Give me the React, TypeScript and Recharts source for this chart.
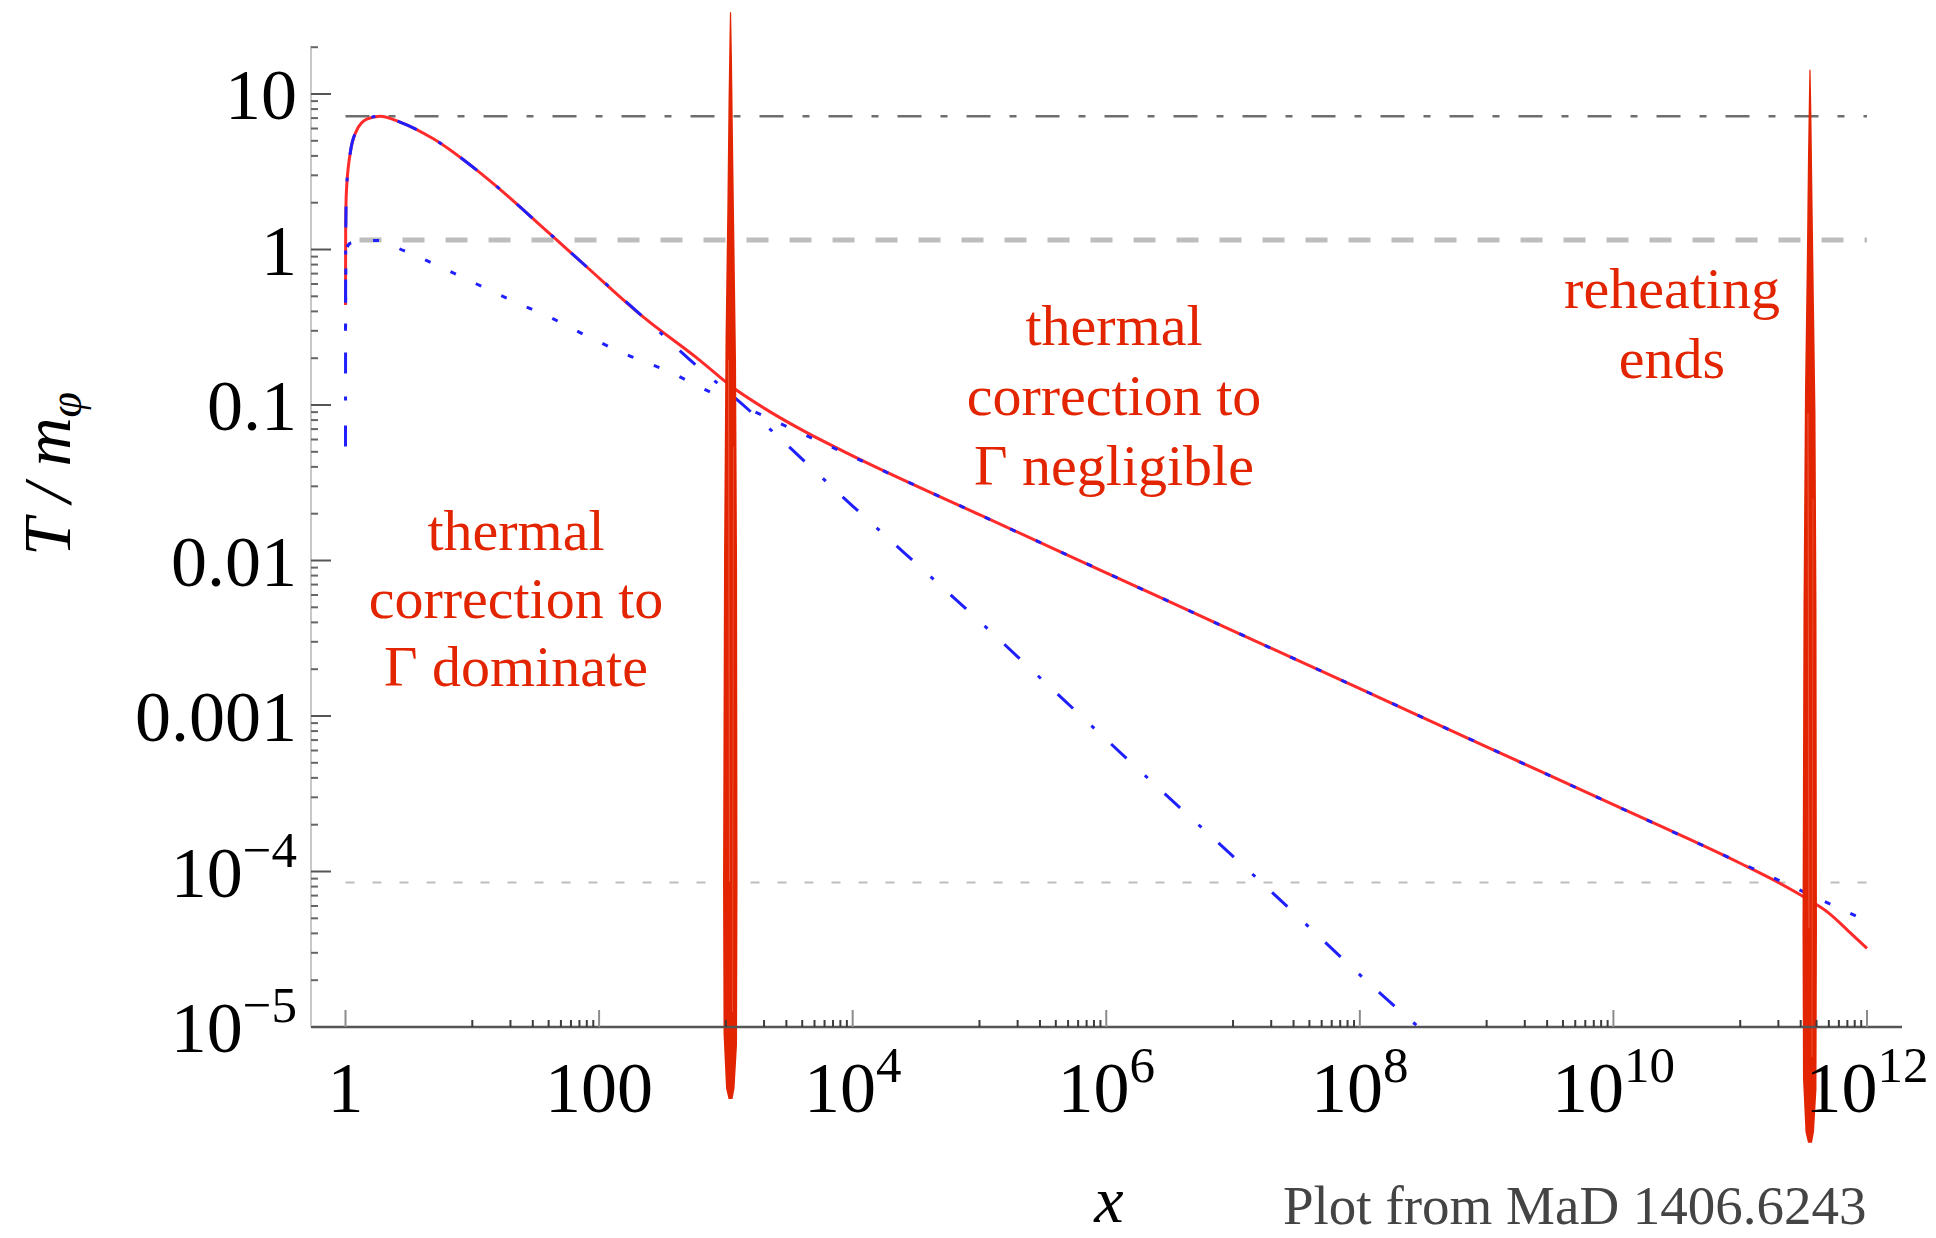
import React from 'react'
import { LineChart, Line, XAxis, YAxis, ReferenceLine } from 'recharts'

// axes: x = a / a_I, y = T / m_phi, both logarithmic
const X_DOMAIN: [number, number] = [0.5344, 1.888e12]
const Y_DOMAIN: [number, number] = [1e-5, 20.36]

const xMajorTicks = [1, 100, 1e4, 1e6, 1e8, 1e10, 1e12]
const xMajorLabels = [['1'], ['100'], ['10', '4'], ['10', '6'], ['10', '8'], ['10', '10'], ['10', '12']]
const xMinorDecades = [10, 1e3, 1e5, 1e7, 1e9, 1e11]

const yMajorTicks = [1e-5, 1e-4, 0.001, 0.01, 0.1, 1, 10]
const yMajorLabels = [['10', '\u22125'], ['10', '\u22124'], ['0.001'], ['0.01'], ['0.1'], ['1'], ['10']]
const yMinorDecades = [1e-5, 1e-4, 1e-3, 0.01, 0.1, 1, 10]

// full solution (red)
const fullSolution = [
  { x: 1, y: 0.44 }, { x: 1.003, y: 1.3 }, { x: 1.015, y: 2.3 }, { x: 1.086, y: 4.1 },
  { x: 1.22, y: 5.8 }, { x: 1.47, y: 6.9 }, { x: 1.87, y: 7.2 }, { x: 2.69, y: 6.6 },
  { x: 4.93, y: 5.15 }, { x: 12.2, y: 3.0 }, { x: 41, y: 1.26 }, { x: 75, y: 0.81 },
  { x: 224, y: 0.367 }, { x: 627, y: 0.193 }, { x: 1088, y: 0.133 }, { x: 2000, y: 0.0955 },
  { x: 4000, y: 0.0689 }, { x: 1e4, y: 0.0471 }, { x: 1e5, y: 0.0197 }, { x: 1e6, y: 0.00834 },
  { x: 1e7, y: 0.00353 }, { x: 1e8, y: 0.0015 }, { x: 1e9, y: 6.34e-4 }, { x: 1e10, y: 2.69e-4 },
  { x: 1e11, y: 1.13e-4 }, { x: 2e11, y: 8.5e-5 }, { x: 3.55e11, y: 6.5e-5 },
  { x: 5e11, y: 5.4e-5 }, { x: 7e11, y: 4.2e-5 }, { x: 1e12, y: 3.2e-5 },
]

// thermal-correction-dominated approximation (blue dash-dot)
const thermalDominated = [
  { x: 1, y: 0.054 }, { x: 1.003, y: 1.0 }, { x: 1.015, y: 2.3 }, { x: 1.086, y: 4.1 },
  { x: 1.22, y: 5.8 }, { x: 1.47, y: 6.9 }, { x: 1.87, y: 7.2 }, { x: 2.69, y: 6.6 },
  { x: 4.93, y: 5.15 }, { x: 12.2, y: 3.0 }, { x: 41, y: 1.26 }, { x: 75, y: 0.81 },
  { x: 224, y: 0.367 }, { x: 627, y: 0.171 }, { x: 1088, y: 0.1175 }, { x: 1e4, y: 0.0224 },
  { x: 1e5, y: 0.00407 }, { x: 4.67e5, y: 0.00126 }, { x: 2.67e6, y: 3.36e-4 },
  { x: 1.73e7, y: 8.3e-5 }, { x: 1.74e8, y: 1.44e-5 }, { x: 2.9e8, y: 1.0e-5 },
]

// thermal correction negligible approximation (blue dotted)
const thermalNegligible = [
  { x: 1, y: 0.3 }, { x: 1.01, y: 1.0 }, { x: 1.1, y: 1.1 }, { x: 1.76, y: 1.144 },
  { x: 2.86, y: 0.986 }, { x: 4.64, y: 0.83 }, { x: 10.8, y: 0.6 }, { x: 26.9, y: 0.426 },
  { x: 41, y: 0.367 }, { x: 65.8, y: 0.301 }, { x: 160.7, y: 0.213 }, { x: 392.6, y: 0.158 },
  { x: 627, y: 0.13 }, { x: 1e3, y: 0.1096 }, { x: 1e4, y: 0.0465 }, { x: 1e5, y: 0.0197 },
  { x: 1e6, y: 0.00834 }, { x: 1e7, y: 0.00353 }, { x: 1e8, y: 0.0015 }, { x: 1e9, y: 6.34e-4 },
  { x: 1e10, y: 2.69e-4 }, { x: 1e11, y: 1.14e-4 }, { x: 1e12, y: 4.8e-5 },
]

// horizontal guide levels and their x extent
const peakLevel = 7.2
const unitLevel = 1.15
const endLevel = 8.5e-5
const guideSpan = [1, 1e12]

// hand-drawn phase markers: x position, top y, bottom y
const phaseMarkers = [
  { x: 1088, top: 33.6, bottom: 3.44e-6 },
  { x: 3.55e11, top: 14.3, bottom: 1.8e-6 },
]

const regionNotes = [
  { cx: 516, y: 550, lines: ['thermal', 'correction to', '\u0393 dominate'], gap: 68 },
  { cx: 1114, y: 345, lines: ['thermal', 'correction to', '\u0393 negligible'], gap: 70 },
  { cx: 1672, y: 308, lines: ['reheating', 'ends'], gap: 70 },
]

const serif = '"Liberation Serif", "Times New Roman", serif'
const RED_INK = '#e32400'

const xMinorTicks = xMinorDecades.flatMap(d => [1, 2, 3, 4, 5, 6, 7, 8, 9].map(j => j * d))
const yMinorTicks = yMinorDecades
  .flatMap(d => [2, 3, 4, 5, 6, 7, 8, 9].map(j => j * d))
  .filter(v => v <= Y_DOMAIN[1])
const xTicks = [...xMajorTicks, ...xMinorTicks]
const yTicks = [...yMajorTicks, ...yMinorTicks]

const findTick = (list: number[], v: number) => list.findIndex(t => Math.abs(t - v) <= t * 1e-9)

function TickLabel({ x, y, parts, anchor }: any) {
  return (
    <text x={x} y={y} textAnchor={anchor} fontFamily={serif} fontSize={72} fill="#000">
      <tspan>{parts[0]}</tspan>
      {parts[1] && <tspan dy={-30} fontSize={51}>{parts[1]}</tspan>}
    </text>
  )
}

const xTick = (side: 'bottom' | 'top') => (p: any) => {
  const i = findTick(xMajorTicks, p.payload.value)
  const major = i >= 0
  const dir = side === 'bottom' ? -1 : 1
  const len = major ? (side === 'bottom' ? 17 : 18) : 7
  return (
    <g>
      <line x1={p.x} x2={p.x} y1={p.y} y2={p.y + dir * len}
        stroke={major ? '#8c8c8c' : '#3c3c3c'} strokeWidth={2} />
      {major && side === 'bottom' && (
        <TickLabel x={p.x} y={p.y + 85} parts={xMajorLabels[i]} anchor="middle" />
      )}
    </g>
  )
}

const yTick = (side: 'left' | 'right') => (p: any) => {
  const i = findTick(yMajorTicks, p.payload.value)
  const major = i >= 0
  const dir = side === 'left' ? 1 : -1
  const len = major ? (side === 'left' ? 20 : 22) : 7
  return (
    <g>
      <line x1={p.x} x2={p.x + dir * len} y1={p.y} y2={p.y}
        stroke={major ? '#555' : '#666'} strokeWidth={2} />
      {major && side === 'left' && (
        <TickLabel x={p.x - 14} y={p.y + 25} parts={yMajorLabels[i]} anchor="end" />
      )}
    </g>
  )
}

// rough felt-pen stroke drawn along a vertical reference segment
function MarkerStroke(p: any) {
  const { x1, y1, y2 } = p
  const top = Math.min(y1, y2)
  const L = Math.abs(y2 - y1)
  const at = (f: number) => top + f * L
  const outline = [
    [0, 0.6], [0.04, 1.4], [0.12, 2.5], [0.22, 4], [0.32, 5.5], [0.5, 6.5], [0.8, 7], [0.95, 6.5], [0.99, 4], [1, 2],
    [1, -2], [0.99, -4.5], [0.94, -7], [0.8, -7.5], [0.5, -6.5], [0.3, -5], [0.18, -3.2], [0.08, -2], [0.02, -1], [0, -0.6],
  ]
  const pts = outline.map(([f, dx]) => `${x1 + dx},${at(f)}`).join(' ')
  return (
    <g>
      <polygon points={pts} fill={RED_INK} />
      <line x1={x1 - 2} x2={x1 - 1} y1={at(0.32)} y2={at(0.8)} stroke="#fff" strokeOpacity={0.25} strokeWidth={1} />
      <line x1={x1 + 3} x2={x1 + 2} y1={at(0.4)} y2={at(0.92)} stroke="#fff" strokeOpacity={0.2} strokeWidth={1} />
    </g>
  )
}

export default function App() {
  return (
    <div style={{ position: 'absolute', left: 0, top: 0, width: 1936, height: 1238, background: '#fff' }}>
      <LineChart width={1936} height={1238} margin={{ top: 46, right: 34, bottom: 0, left: 0 }}>
        <XAxis dataKey="x" type="number" scale="log" domain={X_DOMAIN} allowDataOverflow
          ticks={xTicks} interval={0} tickSize={0} tickMargin={0} tickLine={false}
          tick={xTick('bottom')} height={211} axisLine={{ stroke: '#555', strokeWidth: 2.5 }} />
        <XAxis xAxisId="top" orientation="top" dataKey="x" type="number" scale="log" domain={X_DOMAIN}
          allowDataOverflow ticks={xTicks} interval={0} tickSize={0} tickMargin={0} tickLine={false}
          tick={xTick('top')} height={0} axisLine={{ stroke: '#555', strokeWidth: 2.5 }} />
        <YAxis type="number" scale="log" domain={Y_DOMAIN} allowDataOverflow
          ticks={yTicks} interval={0} tickSize={0} tickMargin={0} tickLine={false}
          tick={yTick('left')} width={311} axisLine={{ stroke: '#c8c8c8', strokeWidth: 2 }} />
        <YAxis yAxisId="right" orientation="right" type="number" scale="log" domain={Y_DOMAIN}
          allowDataOverflow ticks={yTicks} interval={0} tickSize={0} tickMargin={0} tickLine={false}
          tick={yTick('right')} width={0} axisLine={{ stroke: '#d4d4d4', strokeWidth: 2 }} />

        <ReferenceLine segment={[{ x: guideSpan[0], y: peakLevel }, { x: guideSpan[1], y: peakLevel }]}
          stroke="#6e6e6e" strokeWidth={2.5} strokeDasharray="24 19 7 19" />
        <ReferenceLine segment={[{ x: guideSpan[0], y: unitLevel }, { x: guideSpan[1], y: unitLevel }]}
          stroke="#bdbdbd" strokeWidth={5} strokeDasharray="22 21" strokeDashoffset={-14} />
        <ReferenceLine segment={[{ x: guideSpan[0], y: endLevel }, { x: guideSpan[1], y: endLevel }]}
          stroke="#bdbdbd" strokeWidth={2} strokeDasharray="9 18" />

        <Line data={fullSolution} dataKey="y" type="monotone" stroke="#ff2a2a" strokeWidth={3}
          dot={false} activeDot={false} isAnimationActive={false} />
        <Line data={thermalNegligible} dataKey="y" type="monotone" stroke="#1f1fff" strokeWidth={3}
          strokeDasharray="6 22" dot={false} activeDot={false} isAnimationActive={false} />
        <Line data={thermalDominated} dataKey="y" type="monotone" stroke="#1f1fff" strokeWidth={3}
          strokeDasharray="21 25 4 23" dot={false} activeDot={false} isAnimationActive={false} />

        {phaseMarkers.map(m => (
          <ReferenceLine key={m.x} ifOverflow="visible"
            segment={[{ x: m.x, y: m.top }, { x: m.x, y: m.bottom }]}
            shape={(p: any) => <MarkerStroke {...p} />} />
        ))}
      </LineChart>

      <svg width={1936} height={1238} style={{ position: 'absolute', left: 0, top: 0, pointerEvents: 'none' }}>
        {regionNotes.map(n => (
          <text key={n.cx} textAnchor="middle" fontFamily={serif} fontSize={58} fill={RED_INK}>
            {n.lines.map((l, i) => (
              <tspan key={l} x={n.cx} y={n.y + i * n.gap}>{l}</tspan>
            ))}
          </text>
        ))}
        <text transform="translate(70,474) rotate(-90)" textAnchor="middle" fontFamily={serif}
          fontStyle="italic" fontSize={68} fill="#000">
          T / m<tspan dy={11} fontSize={46}>{'\u03C6'}</tspan>
        </text>
        <text x={1109} y={1222} textAnchor="middle" fontFamily={serif} fontStyle="italic" fontSize={66} fill="#000">x</text>
        <text x={1283} y={1224} fontFamily={serif} fontSize={55} fill="#444">Plot from MaD 1406.6243</text>
      </svg>
    </div>
  )
}
